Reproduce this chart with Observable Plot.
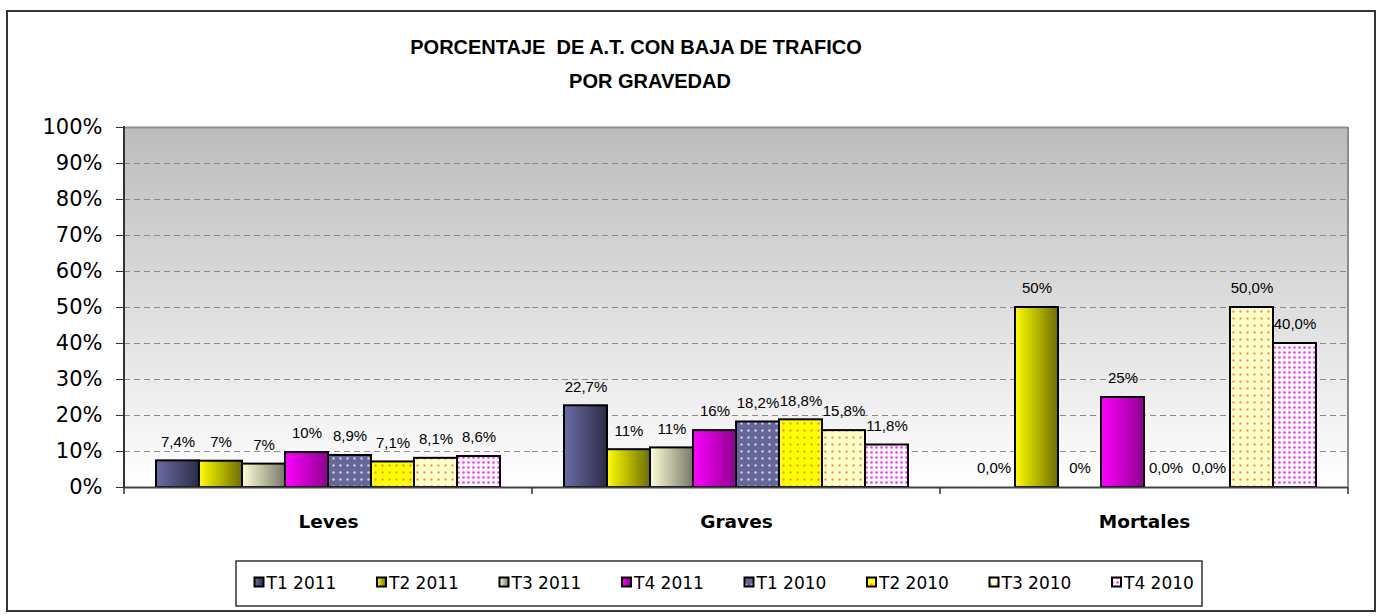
<!DOCTYPE html>
<html>
<head>
<meta charset="utf-8">
<script src="https://cdn.jsdelivr.net/npm/d3@7"></script>
<script src="https://cdn.jsdelivr.net/npm/@observablehq/plot@0.6"></script>
<style>
  body { margin: 0; background: #fff; }
  #wrap { position: relative; width: 1379px; height: 616px; overflow: hidden; background: #fff; }
  #border { position: absolute; left: 6px; top: 10px; width: 1366px; height: 598px; border: 2px solid #333; }
  .title { position: absolute; width: 500px; text-align: center; font: bold 20px "Liberation Sans", Arial, sans-serif; color: #000; white-space: pre; }
  #chart { position: absolute; left: 0; top: 0; }
  #legend { position: absolute; left: 0; top: 0; }
</style>
</head>
<body>
<div id="wrap">
  <div id="border"></div>
  <div class="title" style="top:36px; left:386px;">PORCENTAJE  DE A.T. CON BAJA DE TRAFICO</div>
  <div class="title" style="top:70px; left:400px;">POR GRAVEDAD</div>
  <div id="chart"></div>
  <svg id="legend" width="1379" height="616"></svg>
</div>
<script>
// ---------- data ----------
const groups = ["Leves", "Graves", "Mortales"];
const series = ["T1 2011", "T2 2011", "T3 2011", "T4 2011", "T1 2010", "T2 2010", "T3 2010", "T4 2010"];
const levesValues    = [7.4, 7.3, 6.5, 9.7, 8.9, 7.1, 8.1, 8.6];
const gravesValues   = [22.7, 10.5, 11.0, 15.8, 18.2, 18.8, 15.8, 11.8];
const mortalesValues = [0, 50, 0, 25, 0, 0, 50, 40];
const levesLabels    = ["7,4%", "7%", "7%", "10%", "8,9%", "7,1%", "8,1%", "8,6%"];
const gravesLabels   = ["22,7%", "11%", "11%", "16%", "18,2%", "18,8%", "15,8%", "11,8%"];
const mortalesLabels = ["0,0%", "50%", "0%", "25%", "0,0%", "0,0%", "50,0%", "40,0%"];
const yTicks = [0, 10, 20, 30, 40, 50, 60, 70, 80, 90, 100];

const valuesByGroup = [levesValues, gravesValues, mortalesValues];
const labelsByGroup = [levesLabels, gravesLabels, mortalesLabels];
const rows = [];
groups.forEach((g, gi) => series.forEach((s, si) => rows.push({
  group: g, series: s, value: valuesByGroup[gi][si], label: labelsByGroup[gi][si]
})));

const fillIds = series.map((s, i) => `url(#f${i})`);
const FONT = "'DejaVu Sans', Verdana, sans-serif";
const LABEL_FONT = "'Liberation Sans', Arial, sans-serif";

const plot = Plot.plot({
  width: 1379,
  height: 545,
  marginLeft: 123,
  marginRight: 31,
  marginTop: 127,
  marginBottom: 58,
  style: { background: "transparent", fontFamily: FONT, overflow: "visible" },
  fx: { domain: groups, padding: 0, axis: null },
  x: { domain: series, paddingInner: 0, paddingOuter: 0.73, axis: null },
  y: { domain: [0, 100], axis: null },
  color: { type: "ordinal", domain: series, range: fillIds },
  marks: [
    Plot.frame({ fill: "url(#bg)", stroke: "none", shapeRendering: "crispEdges" }),
    Plot.ruleY(yTicks.slice(1, -1), { stroke: "#8a8a8a", strokeWidth: 1.2, strokeDasharray: "6,4" }),
    Plot.ruleY([100], { stroke: "#8c8c8c", strokeWidth: 2 }),
    Plot.barY(rows, { fx: "group", x: "series", y: "value", fill: "series", stroke: "#000", strokeWidth: 2 }),
    Plot.text(rows, { fx: "group", x: "series", y: "value", text: "label", dy: -19, fontSize: 15, fontFamily: LABEL_FONT, fill: "#000", lineAnchor: "middle" }),
    Plot.ruleY([0], { stroke: "#444", strokeWidth: 2 }),
    Plot.axisY(yTicks, { label: null, tickFormat: d => d + "%", tickSize: 8, tickPadding: 14, fontSize: 21, stroke: "#333", fill: "#000" }),
    Plot.text(groups, { fx: d => d, text: d => d, frameAnchor: "bottom", dy: 35, fontSize: 18.5, fontWeight: "bold", fill: "#000", lineAnchor: "middle" })
  ]
});
document.getElementById("chart").appendChild(plot);

// ---------- fills (gradients and dotted patterns) ----------
const svg = d3.select(plot);
const defs = svg.insert("defs", ":first-child");
function hGrad(id, c0, c1) {
  const g = defs.append("linearGradient").attr("id", id).attr("x1", 0).attr("y1", 0).attr("x2", 1).attr("y2", 0);
  g.append("stop").attr("offset", 0).attr("stop-color", c0);
  g.append("stop").attr("offset", 1).attr("stop-color", c1);
}
function dots(id, bg, dot, size, r) {
  const p = defs.append("pattern").attr("id", id).attr("patternUnits", "userSpaceOnUse")
    .attr("width", size).attr("height", size);
  p.append("rect").attr("width", size).attr("height", size).attr("fill", bg);
  p.append("circle").attr("cx", size / 2).attr("cy", size / 2).attr("r", r).attr("fill", dot);
}
const bgG = defs.append("linearGradient").attr("id", "bg").attr("x1", 0).attr("y1", 0).attr("x2", 0).attr("y2", 1);
bgG.append("stop").attr("offset", 0).attr("stop-color", "#bcbcbc");
bgG.append("stop").attr("offset", 1).attr("stop-color", "#ffffff");
hGrad("f0", "#6c6ca6", "#2c2c46");
hGrad("f1", "#ffff00", "#6e6e00");
hGrad("f2", "#ffffd6", "#78786a");
hGrad("f3", "#ff00ff", "#8e008e");
dots("f4", "#666699", "#cfcfee", 7, 1.2);
dots("f5", "#ffff00", "#ff9900", 7, 1.2);
dots("f6", "#ffffcc", "#ff9933", 7, 1.2);
dots("f7", "#ffffff", "#ff33ff", 5, 1.3);

// ---------- frame edges drawn from Plot's own scales ----------
const fxS = plot.scale("fx");
const yS = plot.scale("y");
const starts = groups.map(g => fxS.apply(g));
const right = starts[starts.length - 1] + fxS.bandwidth;
const y0 = yS.apply(0), y100 = yS.apply(100);
const edges = svg.append("g");
edges.append("line").attr("x1", right).attr("x2", right).attr("y1", y100).attr("y2", y0)
  .attr("stroke", "#8c8c8c").attr("stroke-width", 2);
edges.append("line").attr("x1", starts[0]).attr("x2", starts[0]).attr("y1", y100 - 1).attr("y2", y0 + 1)
  .attr("stroke", "#333").attr("stroke-width", 2);
[...starts, right].forEach(x => edges.append("line").attr("x1", x).attr("x2", x).attr("y1", y0).attr("y2", y0 + 7)
  .attr("stroke", "#333").attr("stroke-width", 1.5));

// ---------- legend ----------
const leg = d3.select("#legend");
leg.append("rect").attr("x", 236).attr("y", 561).attr("width", 966).attr("height", 45)
  .attr("fill", "#fff").attr("stroke", "#333").attr("stroke-width", 1.5);
series.forEach((s, i) => {
  const x = 254.5 + i * 122.5;
  leg.append("rect").attr("x", x).attr("y", 577.5).attr("width", 9).attr("height", 9)
    .attr("fill", fillIds[i]).attr("stroke", "#000").attr("stroke-width", 2);
  leg.append("text").attr("x", x + 12).attr("y", 583).attr("dy", "0.36em")
    .attr("font-family", FONT).attr("font-size", 17).attr("fill", "#000").text(s);
});
</script>
</body>
</html>
